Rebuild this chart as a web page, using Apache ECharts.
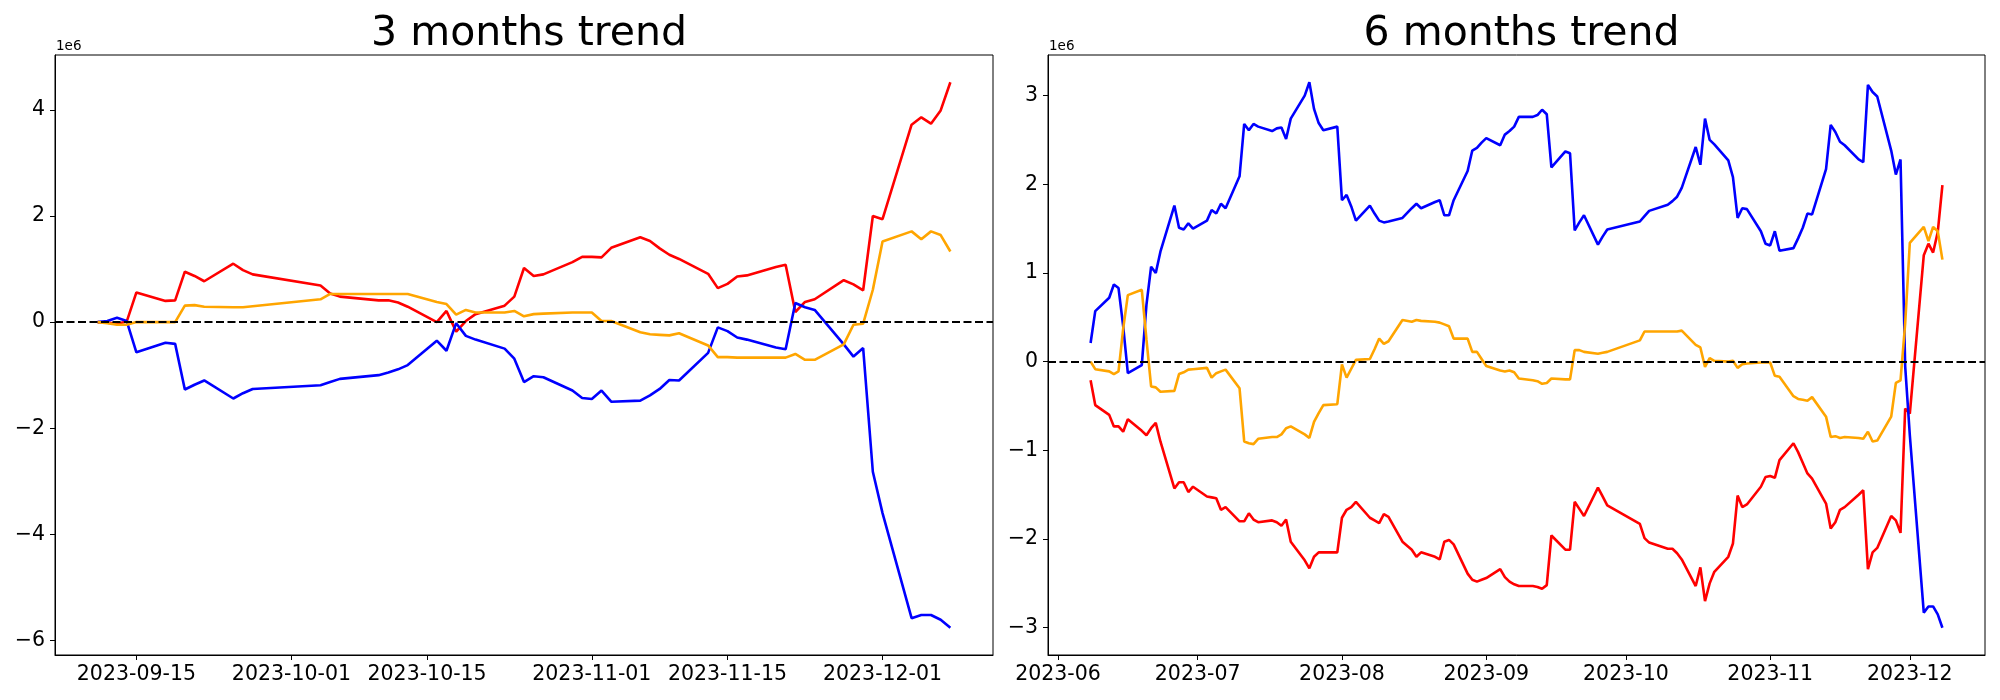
<!DOCTYPE html>
<html><head><meta charset="utf-8">
<script src="https://cdn.jsdelivr.net/npm/echarts@6/dist/echarts.min.js"></script>
<style>html,body{margin:0;padding:0;background:#fff}#c{width:2000px;height:700px}</style>
</head><body><div id="c"></div>
<script>
// ---------- data (values in units of 1e6) ----------
const dates3m = ['2023-09-11','2023-09-12','2023-09-13','2023-09-14','2023-09-15','2023-09-18','2023-09-19','2023-09-20','2023-09-21','2023-09-22','2023-09-25','2023-09-26','2023-09-27',
'2023-10-04','2023-10-05','2023-10-06','2023-10-10','2023-10-11','2023-10-12','2023-10-13','2023-10-16','2023-10-17','2023-10-18','2023-10-19','2023-10-20','2023-10-23','2023-10-24','2023-10-25','2023-10-26','2023-10-27','2023-10-30','2023-10-31',
'2023-11-01','2023-11-02','2023-11-03','2023-11-06','2023-11-07','2023-11-08','2023-11-09','2023-11-10','2023-11-13','2023-11-14','2023-11-15','2023-11-16','2023-11-17','2023-11-20','2023-11-21','2023-11-22','2023-11-23','2023-11-24','2023-11-27','2023-11-28','2023-11-29','2023-11-30',
'2023-12-01','2023-12-04','2023-12-05','2023-12-06','2023-12-07','2023-12-08'];
const red3m = [0,-0.01,-0.03,0.01,0.56,0.40,0.41,0.95,0.87,0.77,1.10,0.98,0.90,
0.69,0.54,0.48,0.41,0.41,0.37,0.29,0.00,0.21,-0.18,0.02,0.15,0.31,0.48,1.02,0.87,0.90,1.13,1.23,
1.23,1.22,1.40,1.60,1.53,1.39,1.27,1.19,0.91,0.64,0.72,0.86,0.88,1.04,1.08,0.19,0.38,0.43,0.79,0.71,0.60,2.00,
1.94,3.72,3.86,3.74,3.99,4.52];
const blue3m = [0,0.02,0.08,0.02,-0.57,-0.39,-0.41,-1.27,-1.18,-1.10,-1.44,-1.34,-1.26,
-1.19,-1.13,-1.07,-1.00,-0.95,-0.89,-0.81,-0.35,-0.54,-0.02,-0.26,-0.33,-0.50,-0.69,-1.13,-1.02,-1.04,-1.29,-1.43,
-1.45,-1.29,-1.50,-1.48,-1.38,-1.26,-1.09,-1.10,-0.58,-0.10,-0.17,-0.29,-0.33,-0.48,-0.51,0.36,0.28,0.23,-0.42,-0.65,-0.49,-2.82,
-3.60,-5.58,-5.52,-5.52,-5.61,-5.76];
const orange3m = [0,-0.02,-0.05,-0.05,0.00,0.00,0.00,0.31,0.32,0.29,0.28,0.28,0.30,
0.43,0.53,0.53,0.53,0.53,0.53,0.53,0.38,0.34,0.14,0.23,0.18,0.18,0.21,0.11,0.15,0.16,0.18,0.18,
0.18,0.02,0.02,-0.19,-0.23,-0.24,-0.25,-0.21,-0.44,-0.66,-0.66,-0.67,-0.67,-0.67,-0.67,-0.60,-0.71,-0.71,-0.42,-0.05,-0.03,0.61,
1.52,1.71,1.56,1.71,1.64,1.33];

const dates6m = ['2023-06-08','2023-06-09','2023-06-12','2023-06-13','2023-06-14','2023-06-15','2023-06-16','2023-06-19','2023-06-20','2023-06-21','2023-06-22','2023-06-23','2023-06-26','2023-06-27','2023-06-28','2023-06-29','2023-06-30',
'2023-07-03','2023-07-04','2023-07-05','2023-07-06','2023-07-07','2023-07-10','2023-07-11','2023-07-12','2023-07-13','2023-07-14','2023-07-17','2023-07-18','2023-07-19','2023-07-20','2023-07-21','2023-07-24','2023-07-25','2023-07-26','2023-07-27','2023-07-28','2023-07-31',
'2023-08-01','2023-08-02','2023-08-03','2023-08-04','2023-08-07','2023-08-08','2023-08-09','2023-08-10','2023-08-11','2023-08-14','2023-08-16','2023-08-17','2023-08-18','2023-08-21','2023-08-22','2023-08-23','2023-08-24','2023-08-25','2023-08-28','2023-08-29','2023-08-30','2023-08-31',
'2023-09-01','2023-09-04','2023-09-05','2023-09-06','2023-09-07','2023-09-08','2023-09-11','2023-09-12','2023-09-13','2023-09-14','2023-09-15','2023-09-18','2023-09-19','2023-09-20','2023-09-21','2023-09-22','2023-09-25','2023-09-26','2023-09-27',
'2023-10-04','2023-10-05','2023-10-06','2023-10-10','2023-10-11','2023-10-12','2023-10-13','2023-10-16','2023-10-17','2023-10-18','2023-10-19','2023-10-20','2023-10-23','2023-10-24','2023-10-25','2023-10-26','2023-10-27','2023-10-30','2023-10-31',
'2023-11-01','2023-11-02','2023-11-03','2023-11-06','2023-11-07','2023-11-08','2023-11-09','2023-11-10','2023-11-13','2023-11-14','2023-11-15','2023-11-16','2023-11-17','2023-11-20','2023-11-21','2023-11-22','2023-11-23','2023-11-24','2023-11-27','2023-11-28','2023-11-29','2023-11-30',
'2023-12-01','2023-12-04','2023-12-05','2023-12-06','2023-12-07','2023-12-08'];
const blue6m = [0.21,0.57,0.72,0.87,0.83,0.40,-0.13,-0.04,0.64,1.07,1.00,1.24,1.76,1.51,1.49,1.56,1.50,
1.59,1.71,1.67,1.78,1.73,2.09,2.68,2.61,2.68,2.65,2.60,2.63,2.64,2.51,2.74,3.00,3.15,2.85,2.69,2.61,2.65,
1.82,1.88,1.75,1.59,1.76,1.67,1.59,1.57,1.58,1.62,1.73,1.78,1.73,1.80,1.82,1.65,1.65,1.82,2.15,2.38,2.41,2.47,
2.52,2.44,2.56,2.60,2.65,2.76,2.76,2.78,2.84,2.79,2.19,2.37,2.35,1.48,1.57,1.65,1.32,1.41,1.49,
1.58,1.64,1.70,1.77,1.81,1.86,1.96,2.42,2.22,2.74,2.50,2.45,2.27,2.08,1.62,1.73,1.72,1.47,1.33,
1.31,1.47,1.25,1.28,1.39,1.51,1.67,1.66,2.17,2.67,2.59,2.48,2.44,2.28,2.25,3.12,3.04,2.99,2.38,2.11,2.28,-0.05,
-0.83,-2.83,-2.76,-2.76,-2.85,-3.00];
const red6m = [-0.21,-0.49,-0.60,-0.73,-0.73,-0.79,-0.65,-0.78,-0.83,-0.75,-0.69,-0.90,-1.43,-1.36,-1.36,-1.47,-1.41,
-1.52,-1.53,-1.54,-1.67,-1.64,-1.80,-1.80,-1.71,-1.78,-1.81,-1.79,-1.81,-1.85,-1.78,-2.03,-2.24,-2.33,-2.20,-2.15,-2.15,-2.15,
-1.76,-1.67,-1.64,-1.58,-1.76,-1.79,-1.82,-1.72,-1.75,-2.03,-2.12,-2.20,-2.15,-2.20,-2.23,-2.03,-2.01,-2.06,-2.39,-2.46,-2.48,-2.46,
-2.44,-2.34,-2.43,-2.48,-2.51,-2.53,-2.53,-2.54,-2.56,-2.52,-1.96,-2.12,-2.12,-1.58,-1.66,-1.74,-1.42,-1.52,-1.62,
-1.83,-1.99,-2.04,-2.11,-2.11,-2.16,-2.23,-2.53,-2.32,-2.70,-2.50,-2.37,-2.20,-2.05,-1.51,-1.64,-1.61,-1.41,-1.30,
-1.29,-1.31,-1.11,-0.92,-1.02,-1.14,-1.26,-1.32,-1.60,-1.88,-1.81,-1.67,-1.64,-1.50,-1.45,-2.34,-2.15,-2.10,-1.74,-1.79,-1.93,-0.53,
-0.585,1.20,1.33,1.23,1.46,1.99];
const orange6m = [0.00,-0.085,-0.11,-0.14,-0.11,0.37,0.75,0.81,0.25,-0.28,-0.29,-0.34,-0.33,-0.14,-0.12,-0.09,-0.085,
-0.07,-0.18,-0.13,-0.11,-0.09,-0.30,-0.90,-0.92,-0.93,-0.87,-0.85,-0.85,-0.82,-0.75,-0.73,-0.82,-0.86,-0.68,-0.58,-0.49,-0.48,
-0.03,-0.18,-0.08,0.02,0.03,0.14,0.26,0.20,0.23,0.47,0.45,0.47,0.46,0.45,0.44,0.42,0.40,0.26,0.26,0.11,0.11,0.03,
-0.05,-0.10,-0.11,-0.10,-0.12,-0.19,-0.21,-0.22,-0.25,-0.24,-0.19,-0.20,-0.20,0.13,0.13,0.11,0.09,0.10,0.11,
0.24,0.34,0.34,0.34,0.34,0.34,0.35,0.19,0.16,-0.06,0.04,0.01,0.00,0.01,-0.07,-0.03,-0.02,-0.01,-0.01,
-0.01,-0.16,-0.17,-0.39,-0.42,-0.43,-0.44,-0.40,-0.62,-0.85,-0.84,-0.86,-0.85,-0.86,-0.87,-0.79,-0.90,-0.89,-0.62,-0.24,-0.21,0.43,
1.34,1.52,1.36,1.52,1.47,1.15];

const xTicks3m = ['2023-09-15','2023-10-01','2023-10-15','2023-11-01','2023-11-15','2023-12-01'];
const xTicks6m = ['2023-06-01','2023-07-01','2023-08-01','2023-09-01','2023-10-01','2023-11-01','2023-12-01'];
const yTicks3m = [-6,-4,-2,0,2,4];
const yTicks6m = [-3,-2,-1,0,1,2,3];
const chartTitles = ['3 months trend','6 months trend'];
const offsetLabel = '1e6';
const seriesColors = {red:'#ff0000', blue:'#0000ff', orange:'#ffa500'};

// ---------- helpers ----------
const FONT = '"DejaVu Sans", "Liberation Sans", sans-serif';
const toTs = s => Date.UTC(+s.slice(0,4), +s.slice(5,7)-1, +s.slice(8,10));
const pairs = (d, v) => d.map((s,i)=>[toTs(s), v[i]]);
const pad2 = n => (n<10?'0':'')+n;
function xRange(d){const lo=toTs(d[0]),hi=toTs(d[d.length-1]),m=0.05*(hi-lo);return [lo-m,hi+m];}
function yRange(arrs){let lo=Infinity,hi=-Infinity;arrs.forEach(a=>a.forEach(v=>{lo=Math.min(lo,v);hi=Math.max(hi,v);}));const m=0.05*(hi-lo);return [lo-m,hi+m];}
const fmtDay = v => {const d=new Date(v);return d.getUTCFullYear()+'-'+pad2(d.getUTCMonth()+1)+'-'+pad2(d.getUTCDate());};
const fmtMonth = v => {const d=new Date(v);return d.getUTCFullYear()+'-'+pad2(d.getUTCMonth()+1);};
const fmtY = v => v<0 ? '\u2212'+(-v) : String(v);

const grids = [
  {left:55, right:1007, top:55, bottom:45},
  {left:1048, right:15, top:55, bottom:45}
];
const xr = [xRange(dates3m), xRange(dates6m)];
const yr = [yRange([red3m,blue3m,orange3m]), yRange([red6m,blue6m,orange6m])];

function xAxis(i, ticks, fmt){
  const vals = ticks.map(toTs);
  return {type:'value', gridIndex:i, min:xr[i][0], max:xr[i][1], splitLine:{show:false},
    axisLine:{show:true, onZero:false, lineStyle:{color:'#000', width:1}},
    axisTick:{show:true, length:5, lineStyle:{color:'#000', width:1}, customValues:vals},
    axisLabel:{show:true, customValues:vals, formatter:fmt, color:'#000', fontFamily:FONT, fontSize:20.5, margin:9}};
}
function yAxis(i, ticks){
  return {type:'value', gridIndex:i, min:yr[i][0], max:yr[i][1], splitLine:{show:false},
    axisLine:{show:true, onZero:false, lineStyle:{color:'#000', width:1}},
    axisTick:{show:true, length:5, lineStyle:{color:'#000', width:1}, customValues:ticks},
    axisLabel:{show:true, customValues:ticks, formatter:fmtY, color:'#000', fontFamily:FONT, fontSize:20.5, margin:10}};
}
function line(i, name, d, v, extra){
  return Object.assign({type:'line', name:name, xAxisIndex:i, yAxisIndex:i, data:pairs(d,v),
    showSymbol:false, symbol:'none', animation:false, silent:true,
    lineStyle:{color:seriesColors[name], width:2.6}, itemStyle:{color:seriesColors[name]}}, extra||{});
}
const zeroLine = {markLine:{symbol:'none', silent:true, animation:false, label:{show:false},
  lineStyle:{color:'#000', width:2, type:[8,3.5]}, data:[{yAxis:0}]}};

const option = {
  backgroundColor:'#fff',
  animation:false,
  title: chartTitles.map((t,i)=>({text:t, left:(grids[i].left + (2000-grids[i].right))/2, textAlign:'center', top:9,
    textStyle:{fontFamily:FONT, fontSize:41, fontWeight:'normal', color:'#000', lineHeight:41}})),
  grid: grids.map(g=>Object.assign({show:true, borderColor:'#000', borderWidth:1, backgroundColor:'transparent', containLabel:false}, g)),
  xAxis:[xAxis(0,xTicks3m,fmtDay), xAxis(1,xTicks6m,fmtMonth)],
  yAxis:[yAxis(0,yTicks3m), yAxis(1,yTicks6m)],
  graphic: grids.map(g=>({type:'text', x:g.left+1, y:53, silent:true,
    style:{text:offsetLabel, font:'13.5px '+FONT, fill:'#000', verticalAlign:'bottom', align:'left'}})),
  series:[
    line(0,'red',dates3m,red3m), line(0,'blue',dates3m,blue3m), line(0,'orange',dates3m,orange3m,zeroLine),
    line(1,'red',dates6m,red6m), line(1,'blue',dates6m,blue6m), line(1,'orange',dates6m,orange6m,zeroLine)
  ]
};
const chart = echarts.init(document.getElementById('c'), null, {renderer:'canvas'});
chart.setOption(option);
</script></body></html>
